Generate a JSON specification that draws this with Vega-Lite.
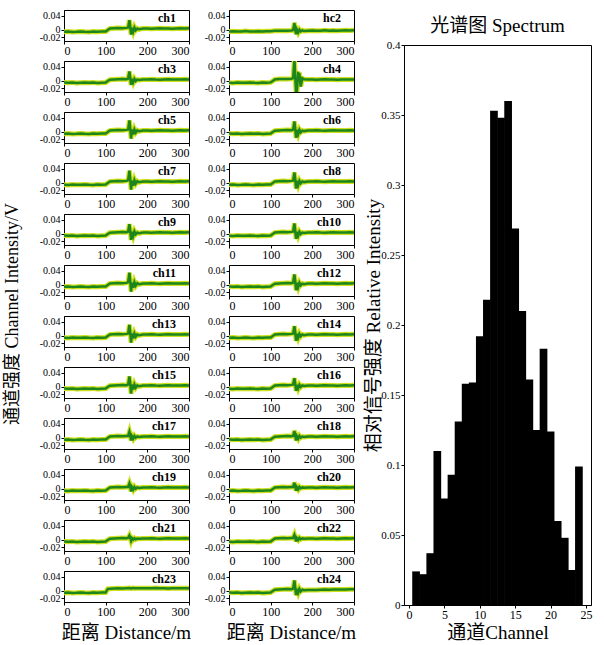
{
  "$schema": "https://vega.github.io/schema/vega-lite/v6.json",
  "background": "white",
  "padding": {"top": 9, "left": 3, "right": 0, "bottom": 0},
  "config": {
    "font": "'Liberation Serif', 'Noto Sans CJK SC'",
    "view": {"stroke": "black", "strokeWidth": 1},
    "axis": {"domainColor": "black", "tickColor": "black", "labelColor": "black", "titleColor": "black", "grid": false, "titleFontWeight": "normal", "labelFont": "Liberation Serif", "tickSize": 3, "labelOverlap": false},
    "header": {"titleColor": "black", "labelColor": "black", "titleFontWeight": "normal"},
    "title": {"color": "black", "fontWeight": "normal"}
  },
  "hconcat": [
    {
      "data": {"values": [
        {"ch": "ch1", "r": 1, "c": "a", "d": [0,10,20,30,40,50,60,70,80,90,100,105,110,120,130,140,150,154,157,159,161,163,166,169,172,176,180,190,200,210,220,230,240,250,260,270,280,290,300], "v": [-0.005,-0.0045,-0.0055,-0.005,-0.004,-0.005,-0.0055,-0.0045,-0.005,-0.0045,-0.0045,0,0.004,0.005,0.0055,0.005,0.006,0.007,0.028,0.01,-0.013,0.006,-0.005,0.007,-0.001,0.004,0.002,0.0045,0.004,0.0035,0.0045,0.005,0.004,0.0045,0.0035,0.0045,0.005,0.0045,0.005]},
        {"ch": "hc2", "r": 1, "c": "b", "d": [0,10,20,30,40,50,60,70,80,90,100,105,110,120,130,140,150,154,157,159,161,163,166,169,172,176,180,190,200,210,220,230,240,250,260,270,280,290,300], "v": [-0.004,-0.0035,-0.0045,-0.004,-0.003,-0.004,-0.0045,-0.0035,-0.004,-0.0035,-0.0035,-0.003,-0.0025,-0.002,-0.0025,-0.002,-0.0015,0,0.02,0.002,-0.012,0.001,-0.007,0.001,-0.004,-0.001,-0.003,-0.002,-0.0015,-0.0025,-0.002,-0.001,-0.002,-0.0015,-0.0025,-0.0015,-0.001,-0.0015,-0.001]},
        {"ch": "ch3", "r": 2, "c": "a", "d": [0,10,20,30,40,50,60,70,80,90,100,105,110,120,130,140,150,154,157,159,161,163,166,169,172,176,180,190,200,210,220,230,240,250,260,270,280,290,300], "v": [-0.0045,-0.005,-0.004,-0.0055,-0.005,-0.0045,-0.005,-0.004,-0.0055,-0.005,-0.0045,0,0.0035,0.0045,0.005,0.0055,0.005,0.007,0.027,0.01,-0.011,0.006,-0.004,0.006,0,0.004,0.003,0.004,0.0045,0.005,0.004,0.0035,0.0045,0.005,0.0045,0.004,0.0045,0.005,0.0045]},
        {"ch": "ch4", "r": 2, "c": "b", "d": [0,10,20,30,40,50,60,70,80,90,100,105,110,120,130,140,150,154,157,159,161,163,166,169,172,176,180,190,200,210,220,230,240,250,260,270,280,290,300], "v": [-0.005,-0.0055,-0.0045,-0.005,-0.005,-0.004,-0.005,-0.0055,-0.0045,-0.005,-0.004,0,0.0045,0.0055,0.006,0.0055,0.0065,0.008,0.065,0.012,-0.035,-0.03,0.022,0.02,-0.016,0.008,0.005,0.0045,0.004,0.0035,0.0045,0.005,0.004,0.0045,0.0035,0.004,0.0045,0.004,0.0045]},
        {"ch": "ch5", "r": 3, "c": "a", "d": [0,10,20,30,40,50,60,70,80,90,100,105,110,120,130,140,150,154,157,159,161,163,166,169,172,176,180,190,200,210,220,230,240,250,260,270,280,290,300], "v": [-0.005,-0.0045,-0.0055,-0.005,-0.004,-0.005,-0.0055,-0.0045,-0.005,-0.0045,-0.0045,0,0.004,0.005,0.0055,0.005,0.006,0.007,0.033,0.01,-0.019,0.007,-0.007,0.007,-0.002,0.0045,0.002,0.0045,0.004,0.0035,0.0045,0.005,0.004,0.0045,0.0035,0.0045,0.005,0.0045,0.005]},
        {"ch": "ch6", "r": 3, "c": "b", "d": [0,10,20,30,40,50,60,70,80,90,100,105,110,120,130,140,150,154,157,159,161,163,166,169,172,176,180,190,200,210,220,230,240,250,260,270,280,290,300], "v": [-0.0045,-0.005,-0.004,-0.0055,-0.005,-0.0045,-0.005,-0.004,-0.0055,-0.005,-0.0045,0,0.0035,0.0045,0.005,0.0055,0.005,0.007,0.03,0.009,-0.017,0.006,-0.006,0.006,-0.001,0.004,0.0025,0.004,0.0045,0.005,0.004,0.0035,0.0045,0.005,0.0045,0.004,0.0045,0.005,0.0045]},
        {"ch": "ch7", "r": 4, "c": "a", "d": [0,10,20,30,40,50,60,70,80,90,100,105,110,120,130,140,150,154,157,159,161,163,166,169,172,176,180,190,200,210,220,230,240,250,260,270,280,290,300], "v": [-0.005,-0.0055,-0.0045,-0.005,-0.005,-0.004,-0.005,-0.0055,-0.0045,-0.005,-0.0045,0,0.004,0.005,0.0055,0.005,0.006,0.008,0.035,0.012,-0.019,0.007,-0.008,0.008,-0.002,0.005,0.002,0.0045,0.004,0.0035,0.0045,0.005,0.004,0.0045,0.0035,0.0045,0.005,0.0045,0.005]},
        {"ch": "ch8", "r": 4, "c": "b", "d": [0,10,20,30,40,50,60,70,80,90,100,105,110,120,130,140,150,154,157,159,161,163,166,169,172,176,180,190,200,210,220,230,240,250,260,270,280,290,300], "v": [-0.005,-0.0045,-0.0055,-0.005,-0.004,-0.005,-0.0055,-0.0045,-0.005,-0.0045,-0.0045,0,0.004,0.005,0.0055,0.005,0.006,0.007,0.03,0.01,-0.016,0.006,-0.006,0.006,-0.001,0.0045,0.0025,0.004,0.0045,0.005,0.004,0.0035,0.0045,0.005,0.0045,0.004,0.0045,0.005,0.0045]},
        {"ch": "ch9", "r": 5, "c": "a", "d": [0,10,20,30,40,50,60,70,80,90,100,105,110,120,130,140,150,154,157,159,161,163,166,169,172,176,180,190,200,210,220,230,240,250,260,270,280,290,300], "v": [-0.0045,-0.005,-0.004,-0.0055,-0.005,-0.0045,-0.005,-0.004,-0.0055,-0.005,-0.0045,0,0.0035,0.0045,0.005,0.0055,0.005,0.007,0.028,0.01,-0.017,0.006,-0.006,0.007,-0.001,0.004,0.002,0.0045,0.004,0.0035,0.0045,0.005,0.004,0.0045,0.0035,0.0045,0.005,0.0045,0.005]},
        {"ch": "ch10", "r": 5, "c": "b", "d": [0,10,20,30,40,50,60,70,80,90,100,105,110,120,130,140,150,154,157,159,161,163,166,169,172,176,180,190,200,210,220,230,240,250,260,270,280,290,300], "v": [-0.005,-0.0055,-0.0045,-0.005,-0.005,-0.004,-0.005,-0.0055,-0.0045,-0.005,-0.0045,0,0.004,0.005,0.0055,0.005,0.006,0.007,0.03,0.009,-0.014,0.006,-0.005,0.006,0,0.004,0.003,0.004,0.0045,0.005,0.004,0.0035,0.0045,0.005,0.0045,0.004,0.0045,0.005,0.0045]},
        {"ch": "ch11", "r": 6, "c": "a", "d": [0,10,20,30,40,50,60,70,80,90,100,105,110,120,130,140,150,154,157,159,161,163,166,169,172,176,180,190,200,210,220,230,240,250,260,270,280,290,300], "v": [-0.005,-0.0045,-0.0055,-0.005,-0.004,-0.005,-0.0055,-0.0045,-0.005,-0.0045,-0.0045,0,0.004,0.005,0.0055,0.005,0.006,0.008,0.035,0.012,-0.019,0.007,-0.008,0.008,-0.002,0.005,0.002,0.004,0.0045,0.005,0.004,0.0035,0.0045,0.005,0.0045,0.004,0.0045,0.005,0.0045]},
        {"ch": "ch12", "r": 6, "c": "b", "d": [0,10,20,30,40,50,60,70,80,90,100,105,110,120,130,140,150,154,157,159,161,163,166,169,172,176,180,190,200,210,220,230,240,250,260,270,280,290,300], "v": [-0.0045,-0.005,-0.004,-0.0055,-0.005,-0.0045,-0.005,-0.004,-0.0055,-0.005,-0.0045,0,0.0035,0.0045,0.005,0.0055,0.005,0.007,0.03,0.01,-0.015,0.006,-0.006,0.006,-0.001,0.004,0.0025,0.0045,0.004,0.0035,0.0045,0.005,0.004,0.0045,0.0035,0.0045,0.005,0.0045,0.005]},
        {"ch": "ch13", "r": 7, "c": "a", "d": [0,10,20,30,40,50,60,70,80,90,100,105,110,120,130,140,150,154,157,159,161,163,166,169,172,176,180,190,200,210,220,230,240,250,260,270,280,290,300], "v": [-0.005,-0.0055,-0.0045,-0.005,-0.005,-0.004,-0.005,-0.0055,-0.0045,-0.005,-0.0045,0,0.004,0.005,0.0055,0.005,0.006,0.007,0.032,0.011,-0.019,0.007,-0.007,0.007,-0.002,0.0045,0.002,0.004,0.0045,0.005,0.004,0.0035,0.0045,0.005,0.0045,0.004,0.0045,0.005,0.0045]},
        {"ch": "ch14", "r": 7, "c": "b", "d": [0,10,20,30,40,50,60,70,80,90,100,105,110,120,130,140,150,154,157,159,161,163,166,169,172,176,180,190,200,210,220,230,240,250,260,270,280,290,300], "v": [-0.005,-0.0045,-0.0055,-0.005,-0.004,-0.005,-0.0055,-0.0045,-0.005,-0.0045,-0.0045,0,0.004,0.005,0.0055,0.005,0.006,0.007,0.028,0.01,-0.014,0.006,-0.005,0.006,-0.001,0.0045,0.0025,0.0045,0.004,0.0035,0.0045,0.005,0.004,0.0045,0.0035,0.0045,0.005,0.0045,0.005]},
        {"ch": "ch15", "r": 8, "c": "a", "d": [0,10,20,30,40,50,60,70,80,90,100,105,110,120,130,140,150,154,157,159,161,163,166,169,172,176,180,190,200,210,220,230,240,250,260,270,280,290,300], "v": [-0.0045,-0.005,-0.004,-0.0055,-0.005,-0.0045,-0.005,-0.004,-0.0055,-0.005,-0.0045,0,0.0035,0.0045,0.005,0.0055,0.005,0.007,0.03,0.011,-0.019,0.007,-0.007,0.007,-0.002,0.0045,0.002,0.004,0.0045,0.005,0.004,0.0035,0.0045,0.005,0.0045,0.004,0.0045,0.005,0.0045]},
        {"ch": "ch16", "r": 8, "c": "b", "d": [0,10,20,30,40,50,60,70,80,90,100,105,110,120,130,140,150,154,157,159,161,163,166,169,172,176,180,190,200,210,220,230,240,250,260,270,280,290,300], "v": [-0.005,-0.0055,-0.0045,-0.005,-0.005,-0.004,-0.005,-0.0055,-0.0045,-0.005,-0.0045,0,0.004,0.005,0.0055,0.005,0.006,0.007,0.025,0.009,-0.011,0.006,-0.004,0.006,0,0.0045,0.003,0.0045,0.004,0.0035,0.0045,0.005,0.004,0.0045,0.0035,0.0045,0.005,0.0045,0.005]},
        {"ch": "ch17", "r": 9, "c": "a", "d": [0,10,20,30,40,50,60,70,80,90,100,105,110,120,130,140,150,154,157,159,161,163,166,169,172,176,180,190,200,210,220,230,240,250,260,270,280,290,300], "v": [-0.005,-0.0045,-0.0055,-0.005,-0.004,-0.005,-0.0055,-0.0045,-0.005,-0.0045,-0.0045,0,0.004,0.005,0.0055,0.005,0.006,0.006,0.018,0.008,-0.007,0.005,-0.002,0.006,0.001,0.0045,0.003,0.004,0.0045,0.005,0.004,0.0035,0.0045,0.005,0.0045,0.004,0.0045,0.005,0.0045]},
        {"ch": "ch18", "r": 9, "c": "b", "d": [0,10,20,30,40,50,60,70,80,90,100,105,110,120,130,140,150,154,157,159,161,163,166,169,172,176,180,190,200,210,220,230,240,250,260,270,280,290,300], "v": [-0.0045,-0.005,-0.004,-0.0055,-0.005,-0.0045,-0.005,-0.004,-0.0055,-0.005,-0.0045,0,0.0035,0.0045,0.005,0.0055,0.005,0.006,0.02,0.008,-0.007,0.005,-0.002,0.006,0.001,0.004,0.003,0.0045,0.004,0.0035,0.0045,0.005,0.004,0.0045,0.0035,0.0045,0.005,0.0045,0.005]},
        {"ch": "ch19", "r": 10, "c": "a", "d": [0,10,20,30,40,50,60,70,80,90,100,105,110,120,130,140,150,154,157,159,161,163,166,169,172,176,180,190,200,210,220,230,240,250,260,270,280,290,300], "v": [-0.005,-0.0055,-0.0045,-0.005,-0.005,-0.004,-0.005,-0.0055,-0.0045,-0.005,-0.0045,0,0.004,0.005,0.0055,0.005,0.006,0.006,0.016,0.008,-0.007,0.005,-0.002,0.006,0.001,0.0045,0.003,0.004,0.0045,0.005,0.004,0.0035,0.0045,0.005,0.0045,0.004,0.0045,0.005,0.0045]},
        {"ch": "ch20", "r": 10, "c": "b", "d": [0,10,20,30,40,50,60,70,80,90,100,105,110,120,130,140,150,154,157,159,161,163,166,169,172,176,180,190,200,210,220,230,240,250,260,270,280,290,300], "v": [-0.005,-0.0045,-0.0055,-0.005,-0.004,-0.005,-0.0055,-0.0045,-0.005,-0.0045,-0.0045,0,0.004,0.005,0.0055,0.005,0.006,0.006,0.018,0.007,-0.005,0.005,-0.001,0.006,0.002,0.0045,0.0035,0.0045,0.004,0.0035,0.0045,0.005,0.004,0.0045,0.0035,0.0045,0.005,0.0045,0.005]},
        {"ch": "ch21", "r": 11, "c": "a", "d": [0,10,20,30,40,50,60,70,80,90,100,105,110,120,130,140,150,154,157,159,161,163,166,169,172,176,180,190,200,210,220,230,240,250,260,270,280,290,300], "v": [-0.0045,-0.005,-0.004,-0.0055,-0.005,-0.0045,-0.005,-0.004,-0.0055,-0.005,-0.0045,0,0.0035,0.0045,0.005,0.0055,0.005,0.006,0.013,0.007,-0.002,0.005,0.001,0.005,0.002,0.004,0.0035,0.004,0.0045,0.005,0.004,0.0035,0.0045,0.005,0.0045,0.004,0.0045,0.005,0.0045]},
        {"ch": "ch22", "r": 11, "c": "b", "d": [0,10,20,30,40,50,60,70,80,90,100,105,110,120,130,140,150,154,157,159,161,163,166,169,172,176,180,190,200,210,220,230,240,250,260,270,280,290,300], "v": [-0.005,-0.0055,-0.0045,-0.005,-0.005,-0.004,-0.005,-0.0055,-0.0045,-0.005,-0.0045,0,0.004,0.005,0.0055,0.005,0.006,0.006,0.015,0.007,-0.004,0.005,0,0.006,0.002,0.0045,0.0035,0.0045,0.004,0.0035,0.0045,0.005,0.004,0.0045,0.0035,0.0045,0.005,0.0045,0.005]},
        {"ch": "ch23", "r": 12, "c": "a", "d": [0,10,20,30,40,50,60,70,80,90,100,105,110,120,130,140,150,154,157,159,161,163,166,169,172,176,180,190,200,210,220,230,240,250,260,270,280,290,300], "v": [-0.005,-0.0045,-0.0055,-0.005,-0.004,-0.005,-0.0055,-0.0045,-0.005,-0.0045,-0.0045,0.006,0.0065,0.007,0.0075,0.007,0.008,0.008,0.0085,0.008,0.0075,0.008,0.0085,0.008,0.0075,0.008,0.008,0.008,0.0075,0.008,0.0085,0.008,0.0075,0.007,0.0075,0.008,0.0075,0.008,0.008]},
        {"ch": "ch24", "r": 12, "c": "b", "d": [0,10,20,30,40,50,60,70,80,90,100,105,110,120,130,140,150,154,157,159,161,163,166,169,172,176,180,190,200,210,220,230,240,250,260,270,280,290,300], "v": [-0.0045,-0.005,-0.004,-0.0055,-0.005,-0.0045,-0.005,-0.004,-0.0055,-0.005,-0.0045,0,0.0035,0.0045,0.005,0.0055,0.005,0.007,0.03,0.009,-0.012,0.006,-0.005,0.006,-0.001,0.0035,0.002,0.003,0.0025,0.003,0.0035,0.004,0.0035,0.004,0.0045,0.004,0.0045,0.005,0.005]}
      ]},
      "transform": [{"flatten": ["d", "v"]}],
      "facet": {
        "row": {"field": "r", "type": "ordinal", "title": "通道强度 Channel Intensity/V",
          "header": {"labels": false, "titleOrient": "left", "titleFontSize": 18, "titlePadding": 6}},
        "column": {"field": "c", "type": "nominal", "title": null,
          "header": {"labelExpr": "'距离 Distance/m'", "labelOrient": "bottom", "labelFontSize": 19, "labelPadding": 6}}
      },
      "spacing": {"row": 3, "column": 13},
      "resolve": {"axis": {"x": "independent", "y": "independent"}},
      "spec": {
        "width": 125,
        "height": 31,
        "layer": [
          {
            "mark": {"type": "line", "color": "#cfe01e", "strokeWidth": 5, "clip": true},
            "encoding": {
              "x": {"field": "d", "type": "quantitative", "scale": {"domain": [0, 300], "nice": false},
                "axis": {"values": [0, 100, 200, 300], "tickCount": 10, "title": null, "labelFontSize": 12, "labelPadding": 1, "format": "~r", "labelOverlap": false}},
              "y": {"field": "v", "type": "quantitative", "scale": {"domain": [-0.0314, 0.057], "nice": false, "zero": false},
                "axis": {"values": [-0.02, 0, 0.04], "tickCount": 10, "title": null, "labelFontSize": 10, "labelPadding": 1, "labelOverlap": false,
                  "labelExpr": "datum.value == 0 ? '0' : (datum.value < 0 ? '-0.02' : '0.04')",
                  "encode": {"labels": {"update": {"dy": {"signal": "datum.value == 0 ? -3 : (datum.value < 0 ? 3 : -1)"}}}}}}
            }
          },
          {
            "mark": {"type": "line", "color": "#1c861c", "strokeWidth": 2.5, "clip": true},
            "encoding": {
              "x": {"field": "d", "type": "quantitative"},
              "y": {"field": "v", "type": "quantitative"}
            }
          },
          {
            "transform": [{"filter": "datum.d == 300"}],
            "mark": {"type": "text", "align": "right", "baseline": "middle", "dx": -13, "fontSize": 12, "fontWeight": "bold", "color": "black"},
            "encoding": {
              "x": {"field": "d", "type": "quantitative"},
              "y": {"datum": 0.035},
              "text": {"field": "ch"}
            }
          }
        ]
      }
    },
    {
      "vconcat": [
        {
          "width": 187,
          "height": 1,
          "data": {"values": []},
          "mark": "point",
          "view": {"stroke": null}
        },
        {
          "width": 187,
          "height": 560,
          "title": {"text": "光谱图 Spectrum", "fontSize": 19, "offset": 3},
          "data": {"values": [
            {"channel": 1, "intensity": 0.024},
            {"channel": 2, "intensity": 0.022},
            {"channel": 3, "intensity": 0.037},
            {"channel": 4, "intensity": 0.110},
            {"channel": 5, "intensity": 0.076},
            {"channel": 6, "intensity": 0.093},
            {"channel": 7, "intensity": 0.131},
            {"channel": 8, "intensity": 0.158},
            {"channel": 9, "intensity": 0.159},
            {"channel": 10, "intensity": 0.192},
            {"channel": 11, "intensity": 0.218},
            {"channel": 12, "intensity": 0.353},
            {"channel": 13, "intensity": 0.348},
            {"channel": 14, "intensity": 0.360},
            {"channel": 15, "intensity": 0.269},
            {"channel": 16, "intensity": 0.210},
            {"channel": 17, "intensity": 0.161},
            {"channel": 18, "intensity": 0.125},
            {"channel": 19, "intensity": 0.183},
            {"channel": 20, "intensity": 0.124},
            {"channel": 21, "intensity": 0.060},
            {"channel": 22, "intensity": 0.048},
            {"channel": 23, "intensity": 0.025},
            {"channel": 24, "intensity": 0.099}
          ]},
          "mark": {"type": "bar", "color": "black", "size": 7.7},
          "encoding": {
            "x": {"field": "channel", "type": "quantitative", "scale": {"domain": [0, 25], "nice": false},
              "axis": {"values": [0, 5, 10, 15, 20, 25], "tickCount": 10, "title": "通道Channel", "titleFontSize": 19, "titlePadding": 3, "labelFontSize": 12, "labelPadding": 1, "format": "~r"}},
            "y": {"field": "intensity", "type": "quantitative", "scale": {"domain": [0, 0.4], "nice": false},
              "axis": {"values": [0, 0.05, 0.1, 0.15, 0.2, 0.25, 0.3, 0.35, 0.4], "tickCount": 20, "title": "相对信号强度 Relative Intensity", "titleFontSize": 19, "titlePadding": -3, "labelFontSize": 11, "labelPadding": 1, "format": "~r"}}
          }
        }
      ],
      "spacing": 5
    }
  ],
  "spacing": 7
}
